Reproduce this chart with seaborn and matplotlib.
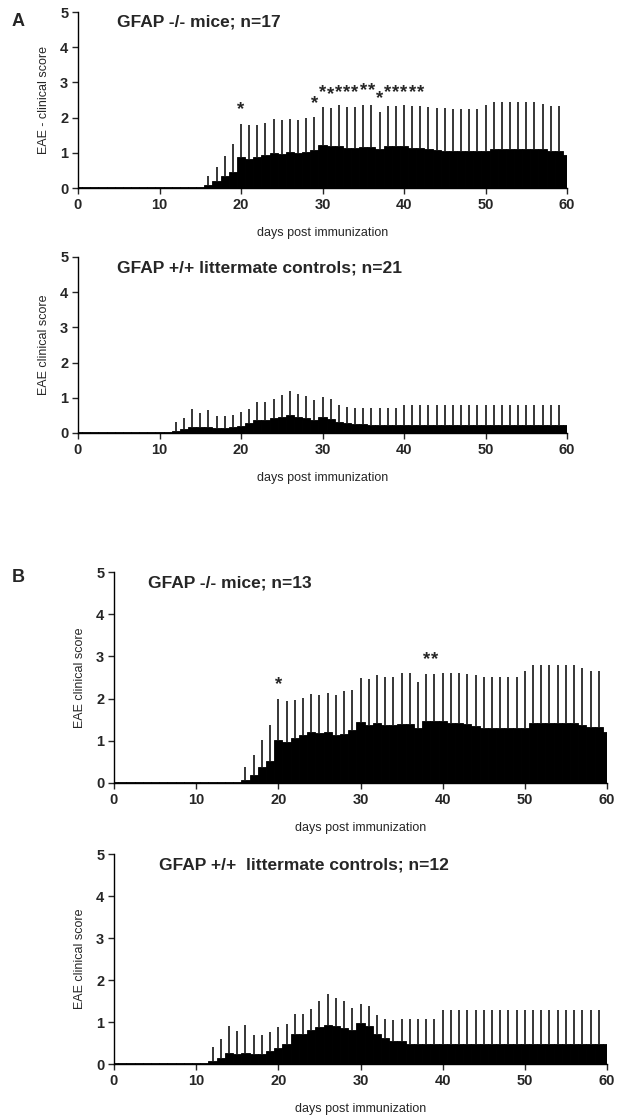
import numpy as np
import matplotlib
matplotlib.use("Agg")
import matplotlib.pyplot as plt
import seaborn as sns

nan = np.nan
days = list(range(61))

# Panel A: GFAP -/- (n=17)
a_ko_mean = [0.02] * 16 + [
    0.08, 0.20, 0.33, 0.45,
    0.87, 0.82, 0.88, 0.95, 1.00, 0.98, 1.03, 1.00, 1.02, 1.08,
    1.23, 1.18, 1.20, 1.15, 1.15, 1.17, 1.17, 1.10, 1.20, 1.20,
    1.20, 1.15, 1.15, 1.12, 1.08, 1.05, 1.04, 1.04, 1.04, 1.04,
    1.05, 1.12, 1.12, 1.12, 1.12, 1.12, 1.12, 1.10, 1.06, 1.05,
    0.95]
a_ko_upper = [nan] * 16 + [
    0.35, 0.60, 0.92, 1.25,
    1.82, 1.78, 1.80, 1.85, 1.97, 1.93, 1.97, 1.93, 2.00, 2.02,
    2.30, 2.28, 2.35, 2.30, 2.30, 2.36, 2.36, 2.17, 2.33, 2.33,
    2.35, 2.33, 2.33, 2.30, 2.28, 2.27, 2.25, 2.25, 2.25, 2.25,
    2.35, 2.45, 2.45, 2.45, 2.45, 2.45, 2.45, 2.40, 2.33, 2.33,
    nan]
a_ko_star_days = [20, 29, 30, 31, 32, 33, 34, 35, 36, 37, 38, 39, 40, 41, 42]
a_ko_star_y = [2.22, 2.41, 2.70, 2.65, 2.72, 2.70, 2.70, 2.77, 2.77, 2.55,
               2.72, 2.72, 2.72, 2.72, 2.72]

# Panel A: GFAP +/+ (n=21)
a_wt_mean = [0.02] * 11 + [
    0.04, 0.06, 0.10, 0.17, 0.16, 0.16, 0.15, 0.14, 0.16,
    0.20, 0.27, 0.36, 0.36, 0.42, 0.46, 0.50, 0.45, 0.42, 0.38,
    0.45, 0.40, 0.30, 0.27, 0.26, 0.25] + [0.22] * 25
a_wt_upper = [nan] * 12 + [
    0.30, 0.43, 0.67, 0.57, 0.64, 0.48, 0.49, 0.52,
    0.60, 0.67, 0.87, 0.87, 0.97, 1.07, 1.18, 1.10, 1.05, 0.93,
    1.02, 0.97, 0.80, 0.73, 0.70, 0.70, 0.72, 0.72, 0.72, 0.72] + [0.80] * 20 + [nan]

# Panel B: GFAP -/- (n=13)
b_ko_mean = [0.02] * 16 + [
    0.07, 0.20, 0.37, 0.53,
    1.03, 0.98, 1.06, 1.13, 1.20, 1.18, 1.22, 1.13, 1.17, 1.25,
    1.45, 1.38, 1.42, 1.37, 1.37, 1.40, 1.40, 1.30, 1.48, 1.48,
    1.47, 1.43, 1.43, 1.40, 1.35, 1.30, 1.30, 1.30, 1.30, 1.30,
    1.30, 1.43, 1.43, 1.43, 1.43, 1.43, 1.43, 1.38, 1.33, 1.33,
    1.20]
b_ko_upper = [nan] * 16 + [
    0.37, 0.67, 1.02, 1.38,
    2.00, 1.95, 1.97, 2.02, 2.12, 2.08, 2.13, 2.08, 2.17, 2.20,
    2.48, 2.47, 2.55, 2.52, 2.52, 2.60, 2.60, 2.40, 2.58, 2.58,
    2.60, 2.60, 2.60, 2.58, 2.55, 2.52, 2.52, 2.52, 2.52, 2.52,
    2.65, 2.80, 2.80, 2.80, 2.80, 2.80, 2.80, 2.73, 2.65, 2.65,
    nan]
b_ko_star_days = [20, 38, 39]
b_ko_star_y = [2.33, 2.92, 2.92]

# Panel B: GFAP +/+ (n=12)
b_wt_mean = [0.02] * 12 + [
    0.08, 0.15, 0.27, 0.24, 0.27, 0.24, 0.24, 0.30,
    0.37, 0.48, 0.72, 0.72, 0.82, 0.87, 0.92, 0.90, 0.85, 0.80,
    0.98, 0.90, 0.72, 0.62, 0.55, 0.55] + [0.48] * 25
b_wt_upper = [nan] * 12 + [
    0.40, 0.60, 0.90, 0.78, 0.92, 0.70, 0.70, 0.76,
    0.87, 0.95, 1.20, 1.20, 1.32, 1.50, 1.67, 1.57, 1.50, 1.33,
    1.42, 1.38, 1.17, 1.08, 1.05, 1.08, 1.08, 1.08, 1.08, 1.08] + [1.28] * 20 + [nan]

sns.set_style("ticks")
plt.rcParams["font.family"] = ["Liberation Sans", "DejaVu Sans"]

W, H = 629, 1117
fig = plt.figure(figsize=(W / 100, H / 100), dpi=100)


def px_axes(x0, x1, y_top, y_bot):
    return fig.add_axes([x0 / W, 1 - y_bot / H, (x1 - x0) / W, (y_bot - y_top) / H])


def draw_panel(ax, mean, upper, title, title_xy, ylabel, stars=None):
    sns.barplot(x=days, y=mean, native_scale=True, width=1, color="black",
                saturation=1, errorbar=None, edgecolor="black", linewidth=0.6, ax=ax)
    up = np.array(upper, dtype=float)
    mn = np.array(mean, dtype=float)
    ok = ~np.isnan(up)
    ax.vlines(np.array(days)[ok], mn[ok], up[ok], color="black", lw=1.1)
    if stars is not None:
        for d, y in zip(*stars):
            ax.text(d, y, "*", ha="center", va="center", fontsize=13.5,
                    fontweight="bold")
    ax.set_xlim(0, 60)
    ax.set_ylim(0, 5)
    ax.set_xticks(range(0, 61, 10))
    ax.set_yticks(range(0, 6))
    ax.tick_params(axis="both", direction="out", length=4, width=1,
                   labelsize=10.5, pad=3)
    for lab in ax.get_xticklabels() + ax.get_yticklabels():
        lab.set_fontweight("bold")
    sns.despine(ax=ax)
    for s in ["left", "bottom"]:
        ax.spines[s].set_linewidth(1)
        ax.spines[s].set_color("black")
    ax.set_xlabel("days post immunization", fontsize=9, labelpad=11)
    ax.set_ylabel(ylabel, fontsize=9, labelpad=7)
    fig.text(title_xy[0] / W, 1 - title_xy[1] / H, title, fontsize=12.5,
             fontweight="bold", ha="left", va="center")


ax1 = px_axes(78, 567, 12, 188)
draw_panel(ax1, a_ko_mean, a_ko_upper, "GFAP -/- mice; n=17", (117, 22),
           "EAE - clinical score", (a_ko_star_days, a_ko_star_y))

ax2 = px_axes(78, 567, 257, 433)
draw_panel(ax2, a_wt_mean, a_wt_upper, "GFAP +/+ littermate controls; n=21",
           (117, 268), "EAE clinical score")

ax3 = px_axes(114, 607, 572, 783)
draw_panel(ax3, b_ko_mean, b_ko_upper, "GFAP -/- mice; n=13", (148, 583),
           "EAE clinical score", (b_ko_star_days, b_ko_star_y))

ax4 = px_axes(114, 607, 854, 1064)
draw_panel(ax4, b_wt_mean, b_wt_upper, "GFAP +/+  littermate controls; n=12",
           (159, 865), "EAE clinical score")

fig.text(18 / W, 1 - 22 / H, "A", fontsize=13, fontweight="bold", ha="center", va="center")
fig.text(18 / W, 1 - 578 / H, "B", fontsize=13, fontweight="bold", ha="center", va="center")

fig.savefig("out.png", dpi=100)
